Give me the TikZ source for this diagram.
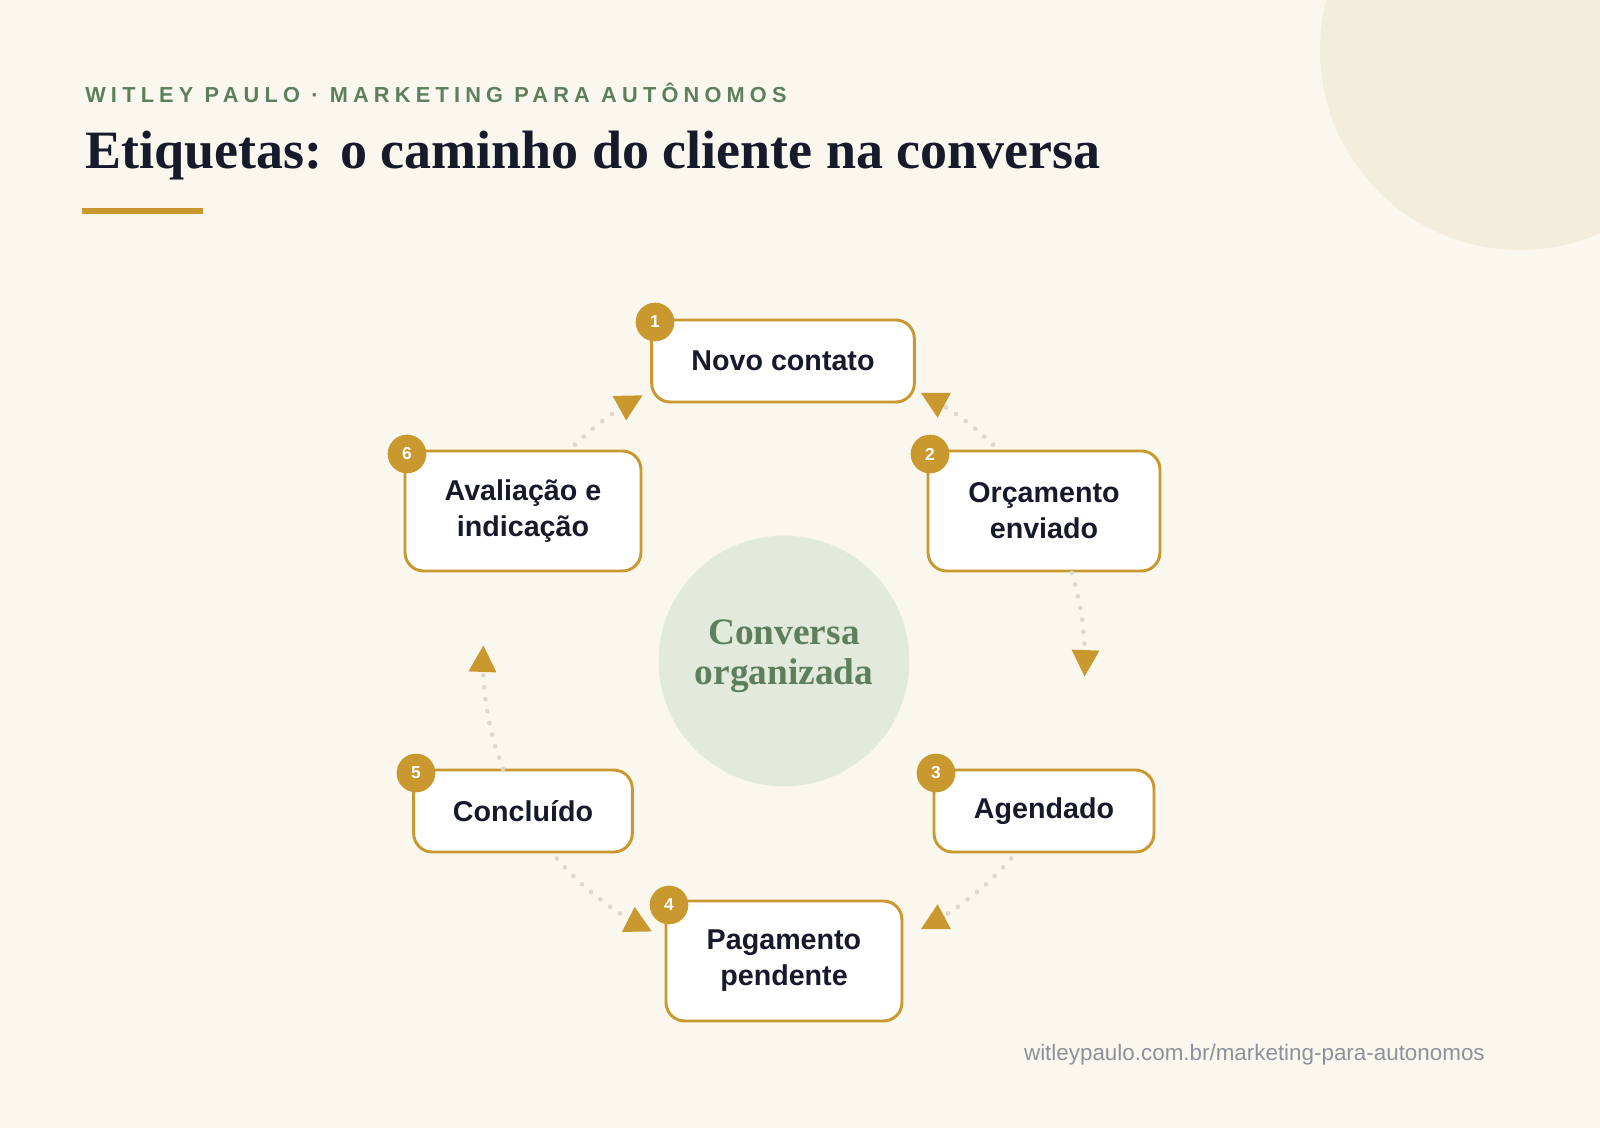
\documentclass[tikz,border=0pt]{standalone}
\usepackage{fontspec}
\setmainfont{Liberation Serif}
\setsansfont{Liberation Sans}
\newfontfamily\spaced[LetterSpace=24]{Liberation Sans}
\usetikzlibrary{arrows.meta,calc}
\definecolor{bg}{HTML}{FAF7EE}
\definecolor{deco}{HTML}{F3EDDD}
\definecolor{gold}{HTML}{C9982F}
\definecolor{ink}{HTML}{161A2B}
\definecolor{sage}{HTML}{5E7F5E}
\definecolor{sagebg}{HTML}{E2EADB}
\definecolor{dotc}{HTML}{DDD8CA}
\definecolor{foot}{HTML}{8C919B}
\begin{document}
\begin{tikzpicture}[x=0.75pt,y=-0.75pt,
  stage/.style={draw=gold,line width=2.2pt,fill=white,rounded corners=14pt,minimum height=61.5pt,font=\sffamily\bfseries\fontsize{21.5}{27}\selectfont,text=ink,align=center},
  badge/.style={circle,fill=gold,minimum size=29pt,inner sep=0pt,text=white,font=\sffamily\bfseries\fontsize{13}{13}\selectfont},
  flow/.style={dotc,line width=3.5pt,line cap=round,dash pattern=on 0pt off 9pt,-{Triangle[length=20pt,width=20pt,fill=gold,color=gold]}}]
\useasboundingbox (0,0) rectangle (1600,1128);
\fill[bg] (0,0) rectangle (1600,1128);
\begin{scope}
\clip (0,0) rectangle (1600,1128);
\fill[deco] (1520,50) circle[radius=200];
\end{scope}
\node[anchor=base west,inner sep=0pt,text=sage,font=\spaced\bfseries\fontsize{16.3}{16}\selectfont] (sub) at (85,102) {WITLEY PAULO · MARKETING PARA AUTÔNOMOS};
\node[anchor=base west,inner sep=0pt,text=ink,font=\bfseries\fontsize{40.5}{41}\selectfont] (title) at (85,168) {Etiquetas: o caminho do cliente na conversa};
\draw[gold,line width=3.8pt] (82,211) -- (203,211);
\node[circle,fill=sagebg,minimum size=188pt,inner sep=0pt] (center) at (784,661) {};
\node[text=sage,align=center,font=\bfseries\fontsize{28}{30}\selectfont] (ctext) at (784,656) {Conversa\\organizada};
% stages
\node[stage,minimum width=197pt] (n1) at (783,361) {Novo contato};
\node[stage,minimum width=174pt,minimum height=90pt] (n2) at (1044,511) {Orçamento\\enviado};
\node[stage,minimum width=165pt] (n3) at (1044,811) {Agendado};
\node[stage,minimum width=177pt,minimum height=90pt] (n4) at (784,961) {Pagamento\\pendente};
\node[stage,minimum width=164pt] (n5) at (523,811) {Concluído};
\node[stage,minimum width=177pt,minimum height=90pt] (n6) at (523,511) {Avaliação e\\indicação};
\node[badge] (b1) at (655,322) {1};
\node[badge] (b2) at (930,454) {2};
\node[badge] (b3) at (936,773) {3};
\node[badge] (b4) at (669,905) {4};
\node[badge] (b5) at (416,773) {5};
\node[badge] (b6) at (407,454) {6};
% connectors
\coordinate (c61) at ($(center)+(-134:301)$);
\coordinate (e61) at ($(center)+(-118:301)$);
\coordinate (c21) at ($(center)+(-46:301)$);
\coordinate (e21) at ($(center)+(-63:301)$);
\coordinate (c23) at ($(center)+(-17:301)$);
\coordinate (e23) at ($(center)+(3:301)$);
\coordinate (c34) at ($(center)+(41:301)$);
\coordinate (e34) at ($(center)+(63:301)$);
\coordinate (c54) at ($(center)+(139:301)$);
\coordinate (e54) at ($(center)+(116:301)$);
\coordinate (c56) at ($(center)+(159:301)$);
\coordinate (e56) at ($(center)+(183:301)$);
\draw[flow] (c61) arc[start angle=-134,end angle=-120,radius=301] -- (e61);
\draw[flow] (c21) arc[start angle=-46,end angle=-61,radius=301] -- (e21);
\draw[flow] (c23) arc[start angle=-17,end angle=1,radius=301] -- (e23);
\draw[flow] (c34) arc[start angle=41,end angle=61,radius=301] -- (e34);
\draw[flow] (c54) arc[start angle=139,end angle=118,radius=301] -- (e54);
\draw[flow] (c56) arc[start angle=159,end angle=181,radius=301] -- (e56);
\node[anchor=base east,inner sep=0pt,text=foot,font=\sffamily\fontsize{16.8}{17}\selectfont] (url) at (1485,1060) {witleypaulo.com.br/marketing-para-autonomos};
\end{tikzpicture}
\end{document}
